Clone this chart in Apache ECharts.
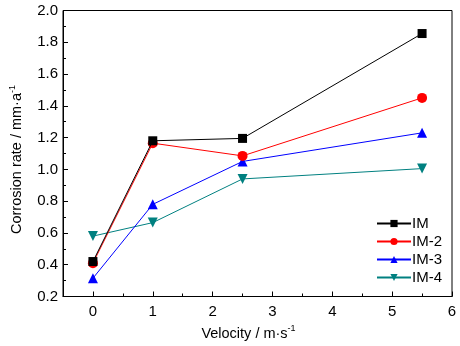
<!DOCTYPE html>
<html>
<head>
<meta charset="utf-8">
<script src="https://cdn.jsdelivr.net/npm/echarts@6/dist/echarts.min.js"></script>
<style>
  html, body { margin: 0; padding: 0; background: #fff; }
  #chart { width: 460px; height: 346px; }
</style>
</head>
<body>
<div id="chart"></div>
<script>
// Flow velocity (m/s) and corrosion rate (mm/a) for each specimen
const velocity = [0, 1, 2.5, 5.5];
const seriesNames = ['IM', 'IM-2', 'IM-3', 'IM-4'];
const rateIM  = [0.42, 1.18, 1.195, 1.855];
const rateIM2 = [0.41, 1.165, 1.085, 1.45];
const rateIM3 = [0.315, 0.78, 1.05, 1.23];
const rateIM4 = [0.58, 0.665, 0.94, 1.005];
const xMajorTicks = [0, 1, 2, 3, 4, 5, 6];
const xMinorTicks = [0.5, 1.5, 2.5, 3.5, 4.5, 5.5];

const FONT = 'Liberation Sans, Arial, sans-serif';
const colors = ['#000000', '#ff0000', '#0000ff', '#008080'];
const symbols = ['rect', 'circle', 'triangle', 'path://M0,0 L10,0 L5,9 Z'];
const symbolSizes = [9, 10, 10, 10];
const rates = [rateIM, rateIM2, rateIM3, rateIM4];

const chart = echarts.init(document.getElementById('chart'), null, { renderer: 'canvas' });

const series = seriesNames.map((name, i) => ({
  name,
  type: 'line',
  xAxisIndex: 0,
  yAxisIndex: 0,
  data: velocity.map((v, j) => [v, rates[i][j]]),
  symbol: symbols[i],
  symbolSize: symbolSizes[i],
  showAllSymbol: true,
  lineStyle: { color: colors[i], width: 1 },
  itemStyle: { color: colors[i] },
  z: 10 - i,
  animation: false
}));

const supStyle = { fontSize: 9, verticalAlign: 'top', padding: [0, 0, 9, 0], fontFamily: FONT, color: '#000' };

chart.setOption({
  animation: false,
  textStyle: { fontFamily: FONT },
  grid: {
    left: 61.5, right: 8, top: 10.5, bottom: 47,
    show: true, borderColor: '#000', borderWidth: 1, backgroundColor: 'transparent'
  },
  legend: {
    orient: 'vertical',
    left: 371, top: 211,
    itemWidth: 34, itemHeight: 9, itemGap: 3,
    textStyle: { fontFamily: FONT, fontSize: 15, color: '#000', padding: [0, 0, 0, -4] },
    data: seriesNames
  },
  xAxis: [{
    type: 'value', min: -0.5, max: 6,
    name: 'Velocity / m·s{sup|-1}',
    nameLocation: 'middle', nameGap: 28,
    nameTextStyle: {
      fontFamily: FONT, fontSize: 14.5, color: '#000', padding: [0, 18, 0, 0],
      rich: { sup: supStyle }
    },
    axisLine: { show: true, onZero: false, lineStyle: { color: '#000', width: 1 } },
    axisTick: { show: true, inside: true, length: 5, customValues: xMajorTicks, lineStyle: { color: '#000' } },
    axisLabel: { show: true, customValues: xMajorTicks, fontSize: 15, color: '#000', margin: 8, fontFamily: FONT },
    splitLine: { show: false }
  }, {
    type: 'value', min: -0.5, max: 6, position: 'bottom', gridIndex: 0,
    axisLine: { show: false, onZero: false },
    axisTick: { show: true, inside: true, length: 3, customValues: xMinorTicks, lineStyle: { color: '#000' } },
    axisLabel: { show: false },
    splitLine: { show: false }
  }],
  yAxis: {
    type: 'value', min: 0.2, max: 2.0, interval: 0.2,
    name: 'Corrosion rate / mm·a{sup|-1}',
    nameLocation: 'middle', nameGap: 37, nameRotate: 90,
    nameTextStyle: {
      fontFamily: FONT, fontSize: 14.5, color: '#000', padding: [0, 12, 0, 0],
      rich: { sup: supStyle }
    },
    axisLine: { show: true, onZero: false, lineStyle: { color: '#000', width: 1 } },
    axisTick: { show: true, inside: true, length: 5, lineStyle: { color: '#000' } },
    minorTick: { show: true, splitNumber: 2, length: 3, lineStyle: { color: '#000' } },
    axisLabel: { fontSize: 15, color: '#000', margin: 5, fontFamily: FONT, formatter: v => v.toFixed(1) },
    splitLine: { show: false }
  },
  series
});
</script>
</body>
</html>
